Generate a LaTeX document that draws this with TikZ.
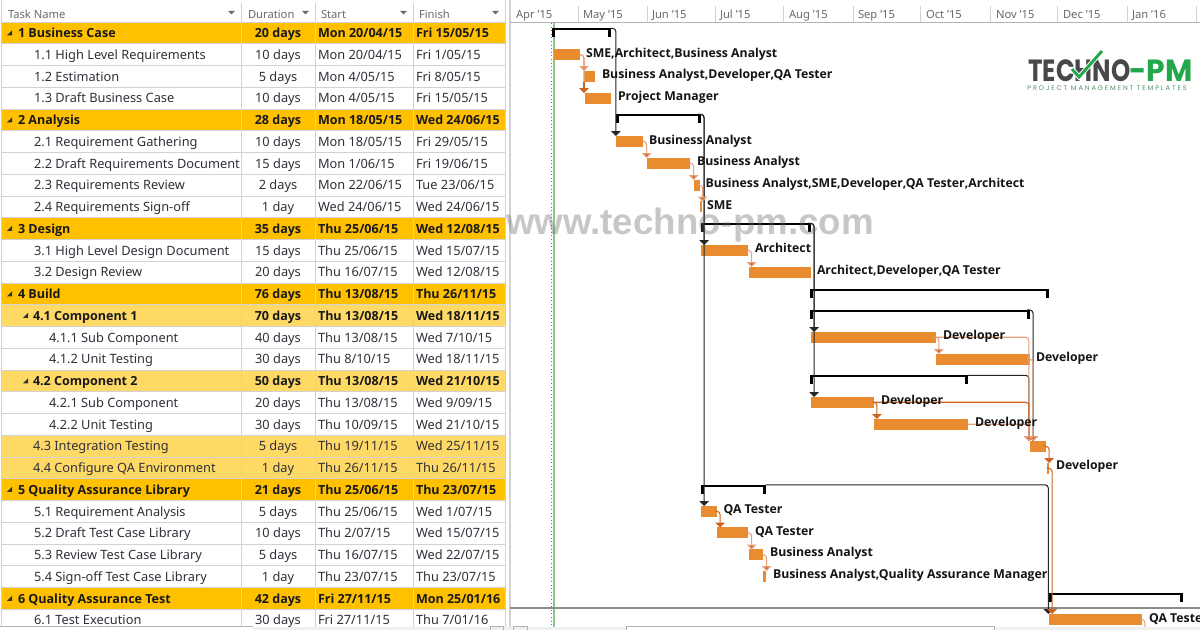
\documentclass[tikz,border=0pt]{standalone}
\usepackage{fontspec}
\usepackage{graphicx}
\setmainfont{Noto Sans}
\newfontfamily\boldfam{Open Sans}
\newfontfamily\wmfont{Liberation Sans}
\newfontfamily\logofont{Poppins}
\newfontfamily\tagfont{Poppins}
\usetikzlibrary{arrows.meta,calc}
\definecolor{sumcol}{HTML}{FFC000}
\definecolor{subcol}{HTML}{FFD966}
\definecolor{gridcol}{HTML}{D2D2D2}
\definecolor{barcol}{HTML}{E98B2F}
\definecolor{linkcol}{HTML}{CC6420}
\definecolor{palelink}{HTML}{E8A07C}
\definecolor{headtxt}{HTML}{6A6A6A}
\definecolor{bodytxt}{HTML}{30303A}
\definecolor{logogray}{HTML}{48484A}
\definecolor{logogreen}{HTML}{22A84A}
\definecolor{todaygreen}{HTML}{8CC68C}
\tikzset{
  cell/.style={inner sep=0pt,outer sep=0pt,anchor=base west,font=\fontsize{9.6pt}{11pt}\selectfont,text=bodytxt},
  cellb/.style={cell,font=\fontsize{9.4pt}{11pt}\boldfam\bfseries,text=black!90},
  headcell/.style={cell,font=\fontsize{8.4pt}{10pt}\selectfont,text=headtxt},
  ganttlabel/.style={inner sep=0pt,outer sep=0pt,anchor=base west,font=\fontsize{9.2pt}{11pt}\boldfam\bfseries,text=black!92},
  rowbg/.style={inner sep=0pt,outer sep=0pt,anchor=north west,draw=none,minimum width=378pt,minimum height=16.3pt},
  ganttbar/.style={inner sep=0pt,outer sep=0pt,anchor=north west,draw=none,fill=barcol,minimum height=7.9pt},
  brace/.style={inner sep=0pt,outer sep=0pt,anchor=north west,fill=black,minimum height=1.6pt},
  tick/.style={line width=2.3pt,black,line cap=butt},
  blacklink/.style={line width=.8pt,black!85,rounded corners=2.5pt,-{Triangle[width=7pt,length=3.6pt]}},
  orangelink/.style={line width=.8pt,linkcol,rounded corners=2.5pt,-{Triangle[width=7pt,length=3.6pt]}},
  palelinkst/.style={line width=.8pt,palelink,rounded corners=2.5pt,-{Triangle[width=7pt,length=3.6pt,fill=linkcol]}},
  filterarrow/.style={fill=headtxt,draw=none},
}
\newcommand{\trow}[7]{%
  \pgfmathsetmacro{\rt}{22.1+(#1-1)*21.75}%
  \pgfmathsetmacro{\rb}{\rt+15.6}%
  \ifcase#2\relax
    \def\rf{white}\def\cs{cell}%
  \or \def\rf{sumcol}\def\cs{cellb}%
  \or \def\rf{subcol}\def\cs{cellb}%
  \or \def\rf{subcol}\def\cs{cell}%
  \fi
  \node[rowbg,fill=\rf] (r#1) at (2,\rt) {};
  \node[\cs] (n#1) at (#3,\rb) {#4};
  \node[\cs,anchor=base] (d#1) at (278,\rb) {#5};
  \node[\cs] (s#1) at (318,\rb) {#6};
  \node[\cs] (f#1) at (416,\rb) {#7};
}
\newcommand{\ganttbarnode}[4]{%
  \pgfmathsetmacro{\bw}{(#3-#2)*.75}%
  \node[ganttbar,minimum width=\bw pt] (#1) at (#2,#4) {};
}
\newcommand{\bracenode}[4]{%
  \pgfmathsetmacro{\bw}{(#3-#2)*.75}%
  \node[brace,minimum width=\bw pt] (#1) at (#2,#4) {};
  \draw[tick] ([xshift=.8pt]#1.north west) -- ++(0,9);
  \draw[tick] ([xshift=-.8pt]#1.north east) -- ++(0,9);
}
\newcommand{\collapse}[2]{\fill[bodytxt] (#1,#2+2.4) -- ++(5,0) -- ++(0,-5) -- cycle;}
\begin{document}
\begin{tikzpicture}[x=.75pt,y=-.75pt]
\useasboundingbox (0,0) rectangle (1200,630);
\fill[white] (0,0) rectangle (1200,630);
\trow{1}{1}{18}{1 Business Case}{20 days}{Mon 20/04/15}{Fri 15/05/15}
\trow{2}{0}{34}{1.1 High Level Requirements}{10 days}{Mon 20/04/15}{Fri 1/05/15}
\trow{3}{0}{34}{1.2 Estimation}{5 days}{Mon 4/05/15}{Fri 8/05/15}
\trow{4}{0}{34}{1.3 Draft Business Case}{10 days}{Mon 4/05/15}{Fri 15/05/15}
\trow{5}{1}{18}{2 Analysis}{28 days}{Mon 18/05/15}{Wed 24/06/15}
\trow{6}{0}{34}{2.1 Requirement Gathering}{10 days}{Mon 18/05/15}{Fri 29/05/15}
\trow{7}{0}{34}{2.2 Draft Requirements Document}{15 days}{Mon 1/06/15}{Fri 19/06/15}
\trow{8}{0}{34}{2.3 Requirements Review}{2 days}{Mon 22/06/15}{Tue 23/06/15}
\trow{9}{0}{34}{2.4 Requirements Sign-off}{1 day}{Wed 24/06/15}{Wed 24/06/15}
\trow{10}{1}{18}{3 Design}{35 days}{Thu 25/06/15}{Wed 12/08/15}
\trow{11}{0}{34}{3.1 High Level Design Document}{15 days}{Thu 25/06/15}{Wed 15/07/15}
\trow{12}{0}{34}{3.2 Design Review}{20 days}{Thu 16/07/15}{Wed 12/08/15}
\trow{13}{1}{18}{4 Build}{76 days}{Thu 13/08/15}{Thu 26/11/15}
\trow{14}{2}{33}{4.1 Component 1}{70 days}{Thu 13/08/15}{Wed 18/11/15}
\trow{15}{0}{49}{4.1.1 Sub Component}{40 days}{Thu 13/08/15}{Wed 7/10/15}
\trow{16}{0}{49}{4.1.2 Unit Testing}{30 days}{Thu 8/10/15}{Wed 18/11/15}
\trow{17}{2}{33}{4.2 Component 2}{50 days}{Thu 13/08/15}{Wed 21/10/15}
\trow{18}{0}{49}{4.2.1 Sub Component}{20 days}{Thu 13/08/15}{Wed 9/09/15}
\trow{19}{0}{49}{4.2.2 Unit Testing}{30 days}{Thu 10/09/15}{Wed 21/10/15}
\trow{20}{3}{33}{4.3 Integration Testing}{5 days}{Thu 19/11/15}{Wed 25/11/15}
\trow{21}{3}{33}{4.4 Configure QA Environment}{1 day}{Thu 26/11/15}{Thu 26/11/15}
\trow{22}{1}{18}{5 Quality Assurance Library}{21 days}{Thu 25/06/15}{Thu 23/07/15}
\trow{23}{0}{34}{5.1 Requirement Analysis}{5 days}{Thu 25/06/15}{Wed 1/07/15}
\trow{24}{0}{34}{5.2 Draft Test Case Library}{10 days}{Thu 2/07/15}{Wed 15/07/15}
\trow{25}{0}{34}{5.3 Review Test Case Library}{5 days}{Thu 16/07/15}{Wed 22/07/15}
\trow{26}{0}{34}{5.4 Sign-off Test Case Library}{1 day}{Thu 23/07/15}{Thu 23/07/15}
\trow{27}{1}{18}{6 Quality Assurance Test}{42 days}{Fri 27/11/15}{Mon 25/01/16}
\trow{28}{0}{34}{6.1 Test Execution}{30 days}{Fri 27/11/15}{Thu 7/01/16}
\foreach \i in {0,...,27}{\draw[gridcol,line width=.85pt] (2,22.1+\i*21.75) -- (505,22.1+\i*21.75);}
\foreach \cx in {241,315,413}{\draw[gridcol,line width=.75pt] (\cx,3) -- (\cx,627);}
\draw[gridcol,line width=1pt] (505.5,0) -- (505.5,627);
\draw[gridcol,line width=1pt] (510,0) -- (510,627);
\draw[gridcol,line width=.75pt] (1,0) -- (1,627);
\foreach \yy in {33,119.9,228.6,293.9,489.6,598.4}{\collapse{7}{\yy}}
\foreach \yy in {315.6,380.9}{\collapse{23}{\yy}}
\node[headcell] (h1) at (8,19) {Task Name};
\node[headcell] (h2) at (248,19) {Duration};
\node[headcell] (h3) at (321,19) {Start};
\node[headcell] (h4) at (419,19) {Finish};
\foreach \ax in {228,302,400,492}{\fill[filterarrow] (\ax,11) -- ++(7,0) -- ++(-3.5,3.5) -- cycle;}
\draw[gridcol!85!black,line width=.9pt] (510,22.2) -- (1200,22.2);
\foreach \tx in {578,647,715,783,853,920,990,1057,1127,1196}{\draw[gridcol,line width=.75pt] (\tx,6) -- (\tx,22);}
\foreach \tt/\tx/\nm in {Apr '15/516/m1,May '15/583/m2,Jun '15/652/m3,Jul '15/720/m4,Aug '15/789/m5,Sep '15/858/m6,Oct '15/926/m7,Nov '15/996/m8,Dec '15/1063/m9,Jan '16/1132/m10}
  {\node[headcell] (\nm) at (\tx,19) {\tt};}
\draw[black!55,line width=.7pt,dotted] (551,23) -- (551,627);
\draw[todaygreen,line width=.9pt] (554,23) -- (554,627);
\draw[gray!90,line width=.9pt] (510,608) -- (1200,608);
\ganttbarnode{b11}{554}{580}{49.5}
\ganttbarnode{b12}{584}{595}{71}
\ganttbarnode{b13}{585}{611}{93}
\ganttbarnode{b21}{616}{643}{136}
\ganttbarnode{b22}{647}{690}{158}
\ganttbarnode{b23}{694}{700}{180}
\ganttbarnode{b24}{700}{701.6}{201.5}
\ganttbarnode{b31}{701}{748}{245}
\ganttbarnode{b32}{749}{811}{267}
\ganttbarnode{b411}{811}{936}{332}
\ganttbarnode{b412}{936}{1030}{354}
\ganttbarnode{b421}{811}{874}{397}
\ganttbarnode{b422}{874}{968}{419}
\ganttbarnode{b43}{1030}{1046}{441}
\ganttbarnode{b44}{1046.6}{1049}{463}
\ganttbarnode{b51}{701}{717}{506}
\ganttbarnode{b52}{717}{748}{527.5}
\ganttbarnode{b53}{749}{763}{549.5}
\ganttbarnode{b54}{763.4}{766}{571}
\ganttbarnode{b61}{1049}{1142}{614}
\bracenode{s1}{552}{611}{28.3}
\bracenode{s2}{616}{701}{114.3}
\bracenode{s3}{701}{811}{223.3}
\bracenode{s4}{810}{1049}{288.6}
\bracenode{s41}{810}{1030}{310}
\bracenode{s42}{810}{968}{375.3}
\bracenode{s5}{701}{766}{484.8}
\bracenode{s6}{1049}{1183}{593}
\draw[blacklink] (s1.north east) -| ([xshift=-.1pt]b21.north west);
\draw[blacklink] (s2.north east) -| ([xshift=2.3pt]b31.north west);
\draw[blacklink] (s2.north east) -| ([xshift=2.3pt]b51.north west);
\draw[blacklink] (s3.north east) -| ([xshift=2.3pt]b411.north west);
\draw[blacklink] (s3.north east) -| ([xshift=2.3pt]b421.north west);
\draw[blacklink] (s5.north east) -| ([xshift=-.5pt]b61.north west);
\draw[blacklink] (s41.north east) -| ([xshift=2.3pt]b43.north west);
\draw[blacklink] (s42.north east) -| ([xshift=-.8pt]b43.north west);
\draw[palelinkst] (b11.east) -| ([xshift=3pt]b11.east |- b12.north);
\draw[palelinkst] (b11.east) -| ([xshift=3pt]b11.east |- b13.north);
\draw[orangelink] ([xshift=3pt]b11.east |- b12.south) -- ([xshift=3pt]b11.east |- b13.north);
\draw[palelinkst] (b21.east) -| ([xshift=2.7pt]b21.east |- b22.north);
\draw[palelinkst] (b22.east) -| ([xshift=2.7pt]b22.east |- b23.north);
\draw[palelinkst] (b23.east) -| ([xshift=2pt]b23.east |- b24.north);
\draw[palelinkst] (b31.east) -| ([xshift=2.7pt]b31.east |- b32.north);
\draw[palelinkst] (b411.east) -| ([xshift=2.2pt]b411.east |- b412.north);
\draw[palelinkst] (b411.east) -| ([xshift=-.8pt]b43.north west);
\draw[palelinkst] (b412.east) -| ([xshift=2.3pt]b43.north west);
\draw[orangelink] (b421.east) -| ([xshift=2.2pt]b421.east |- b422.north);
\draw[orangelink] (b421.east) -| ([xshift=-.8pt]b43.north west);
\draw[palelinkst] (b422.east) -| ([xshift=-.8pt]b43.north west);
\draw[orangelink] (b43.east) -| ([xshift=2.3pt]b43.east |- b44.north);
\draw[orangelink] (b44.east) -| ([xshift=2.3pt]b61.north west);
\draw[orangelink] (b51.east) -| ([xshift=2.3pt]b51.east |- b52.north);
\draw[palelinkst] (b52.east) -| ([xshift=2.7pt]b52.east |- b53.north);
\draw[palelinkst] (b53.east) -| ([xshift=2.7pt]b53.east |- b54.north);
\draw[line width=.8pt,palelink,rounded corners=2.5pt] (b61.east) -| ++(2.8,8);
\node[ganttlabel] (l11) at (586,57.5) {SME,Architect,Business Analyst};
\node[ganttlabel] (l12) at (602,79) {Business Analyst,Developer,QA Tester};
\node[ganttlabel] (l13) at (618,101) {Project Manager};
\node[ganttlabel] (l21) at (649,144.5) {Business Analyst};
\node[ganttlabel] (l22) at (697,166) {Business Analyst};
\node[ganttlabel] (l23) at (705.5,188) {Business Analyst,SME,Developer,QA Tester,Architect};
\node[ganttlabel] (l24) at (707,209.5) {SME};
\node[ganttlabel] (l31) at (755,253) {Architect};
\node[ganttlabel] (l32) at (817,274.5) {Architect,Developer,QA Tester};
\node[ganttlabel] (l411) at (943,340) {Developer};
\node[ganttlabel] (l412) at (1036,361.5) {Developer};
\node[ganttlabel] (l421) at (881,405) {Developer};
\node[ganttlabel] (l422) at (975,427) {Developer};
\node[ganttlabel] (l44) at (1056,470) {Developer};
\node[ganttlabel] (l51) at (723.5,514) {QA Tester};
\node[ganttlabel] (l52) at (755,535.5) {QA Tester};
\node[ganttlabel] (l53) at (770,557) {Business Analyst};
\node[ganttlabel] (l54) at (773,579) {Business Analyst,Quality Assurance Manager};
\node[ganttlabel] (l61) at (1149,622.5) {QA Tester};
\fill[black!6] (0,627) rectangle (1200,630);
\fill[white] (0,627) rectangle (253,630);
\draw[gridcol!85!black,line width=.7pt] (0,626.6) -- (253,626.6);
\draw[gridcol!85!black,line width=.7pt] (490,630) |- (503,626.6) -- (503,630);
\draw[gridcol!85!black,line width=.7pt] (513,630) |- (527,626.6) -- (527,630);
\fill[white] (626,627) rectangle (994,630);
\draw[gridcol!85!black,line width=.7pt] (626,630) |- (994,626.6) -- (994,630);
\node[inner sep=0pt,anchor=base west,opacity=.36,text=black!60,font=\fontsize{27.5pt}{30pt}\wmfont\bfseries] (wm) at (506,235) {www.techno-pm.com};
\node[inner sep=0pt,anchor=base west,text=logogray,font=\fontsize{23pt}{25pt}\logofont\bfseries] (lg1) at (1028,82) {\scalebox{.8}[1]{TECHNO}};
\node[inner sep=0pt,anchor=base west,text=logogreen,font=\fontsize{23pt}{25pt}\logofont\bfseries] (lg2) at (1129,82) {\scalebox{.97}[1]{-PM}};
\node[inner sep=0pt,anchor=base west,text=logogreen!50!gray,font=\fontsize{5pt}{6pt}\tagfont] (lg3) at (1027,91) {\addfontfeatures{LetterSpace=28}PROJECT MANAGEMENT TEMPLATES};
\draw[white,line width=3.6pt] (1072,69) -- (1079,77) -- (1102,51);
\draw[logogreen,line width=2.2pt] (1072,69) -- (1079,77) -- (1102,51);
\end{tikzpicture}
\end{document}
